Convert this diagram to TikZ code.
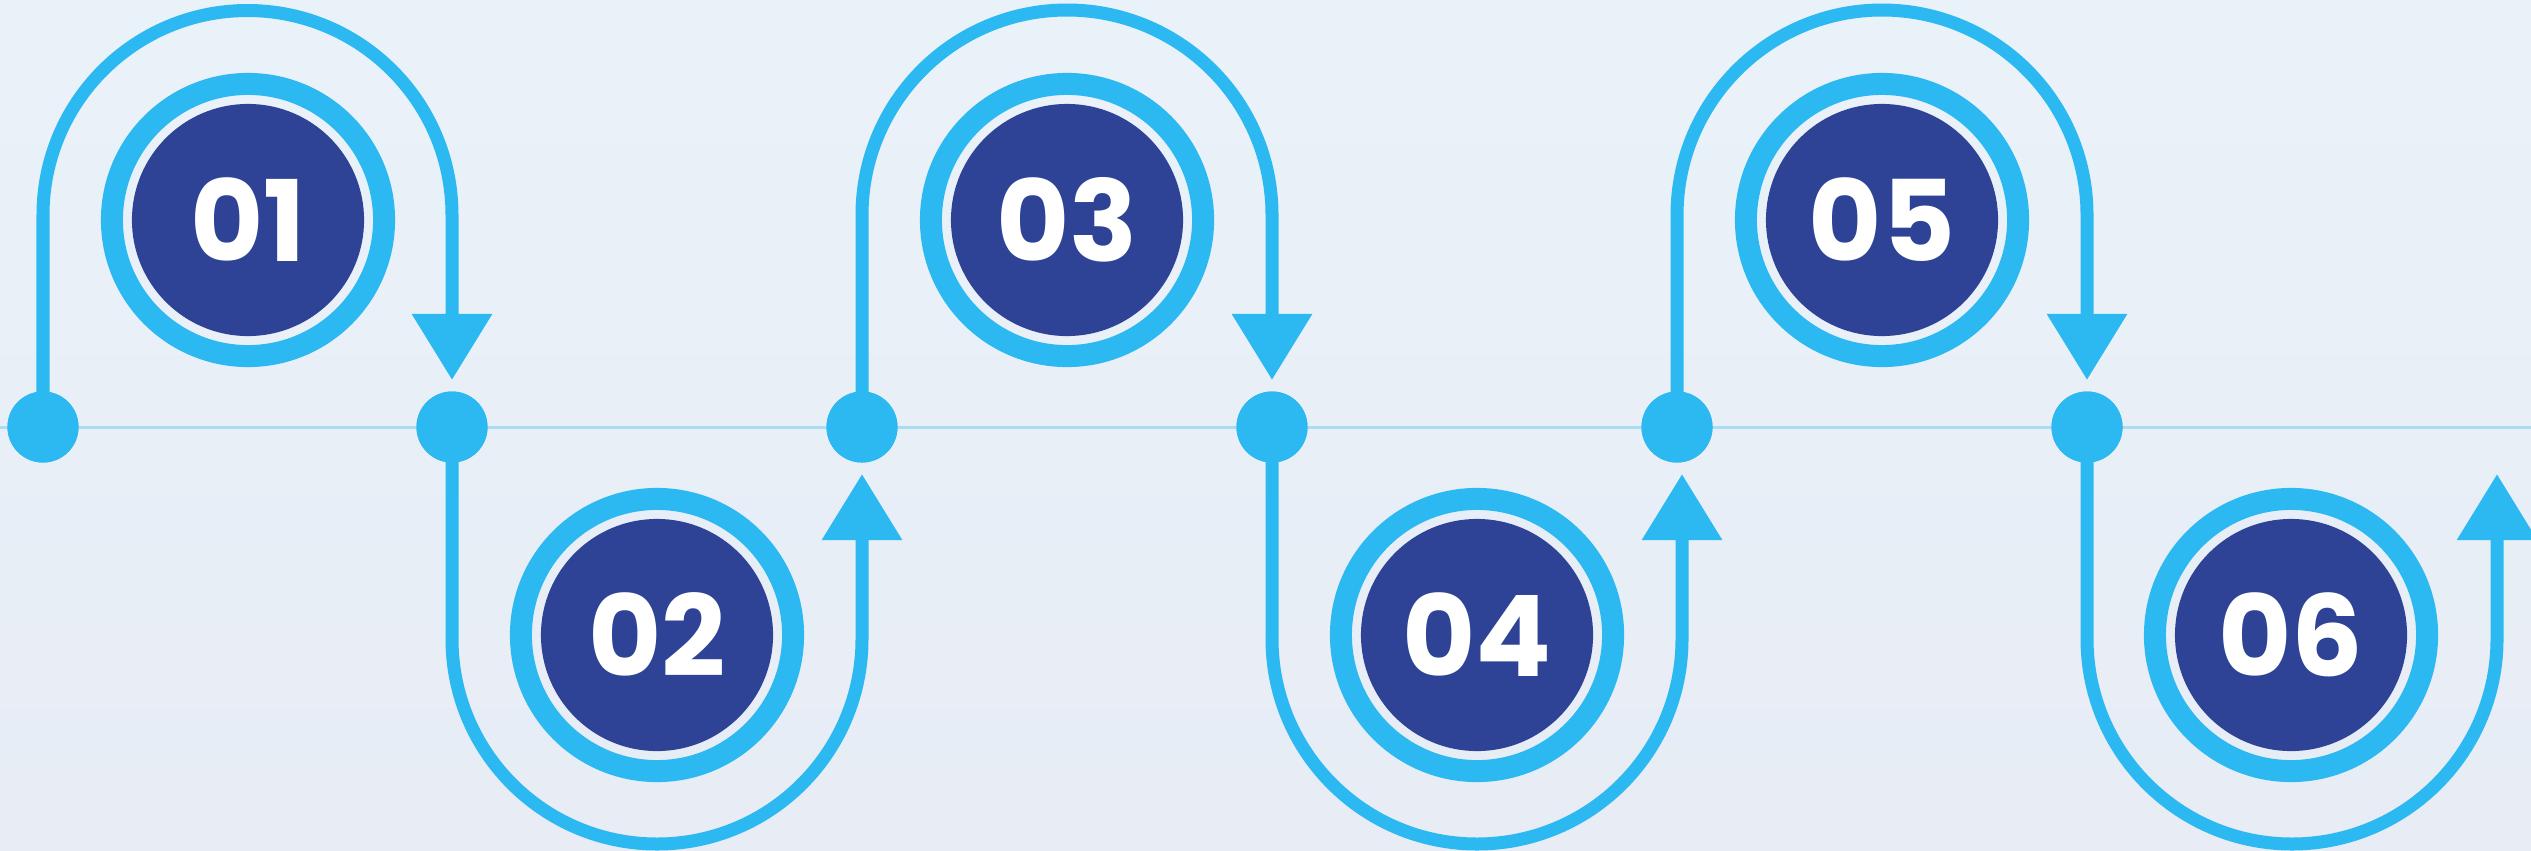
\documentclass[tikz,border=0pt]{standalone}
\usepackage{fontspec}
\newfontfamily\numfont{Poppins}
\usetikzlibrary{arrows.meta}
\definecolor{sky}{HTML}{2CB9F1}
\definecolor{navy}{HTML}{2E4396}
\definecolor{bgtop}{HTML}{EAF2F9}
\definecolor{bgbot}{HTML}{E7ECF5}
\definecolor{rule}{HTML}{AADCF4}
\tikzset{
  flow/.style={draw=sky, line width=0.13cm, line join=round, -{Triangle[width=0.77cm,length=0.66cm]}},
  dot/.style={circle, fill=sky, minimum size=0.71cm, inner sep=0pt},
  ring/.style={circle, draw=sky, line width=0.22cm, minimum size=2.72cm, inner sep=0pt},
  core/.style={circle, fill=navy, minimum size=2.32cm, inner sep=0pt, text=white,
    font=\numfont\bfseries\fontsize{32}{32}\selectfont},
}
\begin{document}
\begin{tikzpicture}[x=0.01cm, y=0.01cm]
\useasboundingbox (0,0) rectangle (2531,850);
\shade[top color=bgtop, bottom color=bgbot] (0,0) rectangle (2531,850);
\coordinate (l0) at (0,423);
\coordinate (l1) at (2531,423);
\draw[rule, line width=0.03cm] (l0) -- (l1);

% dots
\node[dot] (d1) at (43,423) {};
\node[dot] (d2) at (452,423) {};
\node[dot] (d3) at (862,423) {};
\node[dot] (d4) at (1272,423) {};
\node[dot] (d5) at (1677,423) {};
\node[dot] (d6) at (2087,423) {};

% arrow tips
\coordinate (t1) at (452,470);
\coordinate (t2) at (862,376);
\coordinate (t3) at (1272,470);
\coordinate (t4) at (1682,376);
\coordinate (t5) at (2087,470);
\coordinate (t6) at (2497,376);

% connectors
\draw[flow] (d1.center) -- ++(0,212) arc[start angle=180, end angle=0, radius=204.5] -- (t1);
\draw[flow] (d2.center) -- ++(0,-212) arc[start angle=180, end angle=360, radius=205] -- (t2);
\draw[flow] (d3.center) -- ++(0,212) arc[start angle=180, end angle=0, radius=205] -- (t3);
\draw[flow] (d4.center) -- ++(0,-212) arc[start angle=180, end angle=360, radius=205] -- (t4);
\draw[flow] (d5.center) -- ++(0,212) arc[start angle=180, end angle=0, radius=205] -- (t5);
\draw[flow] (d6.center) -- ++(0,-212) arc[start angle=180, end angle=360, radius=205] -- (t6);

% redraw dots on top
\foreach \n in {d1,d2,d3,d4,d5,d6} \fill[sky] (\n) circle[radius=35.5];

% step circles
\node[ring] (r1) at (248,630) {};
\node[core] (c1) at (248,630) {01};
\node[ring] (r2) at (657,215) {};
\node[core] (c2) at (657,215) {02};
\node[ring] (r3) at (1067,630) {};
\node[core] (c3) at (1067,630) {03};
\node[ring] (r4) at (1477,215) {};
\node[core] (c4) at (1477,215) {04};
\node[ring] (r5) at (1882,630) {};
\node[core] (c5) at (1882,630) {05};
\node[ring] (r6) at (2291,215) {};
\node[core] (c6) at (2291,215) {06};
\end{tikzpicture}
\end{document}
